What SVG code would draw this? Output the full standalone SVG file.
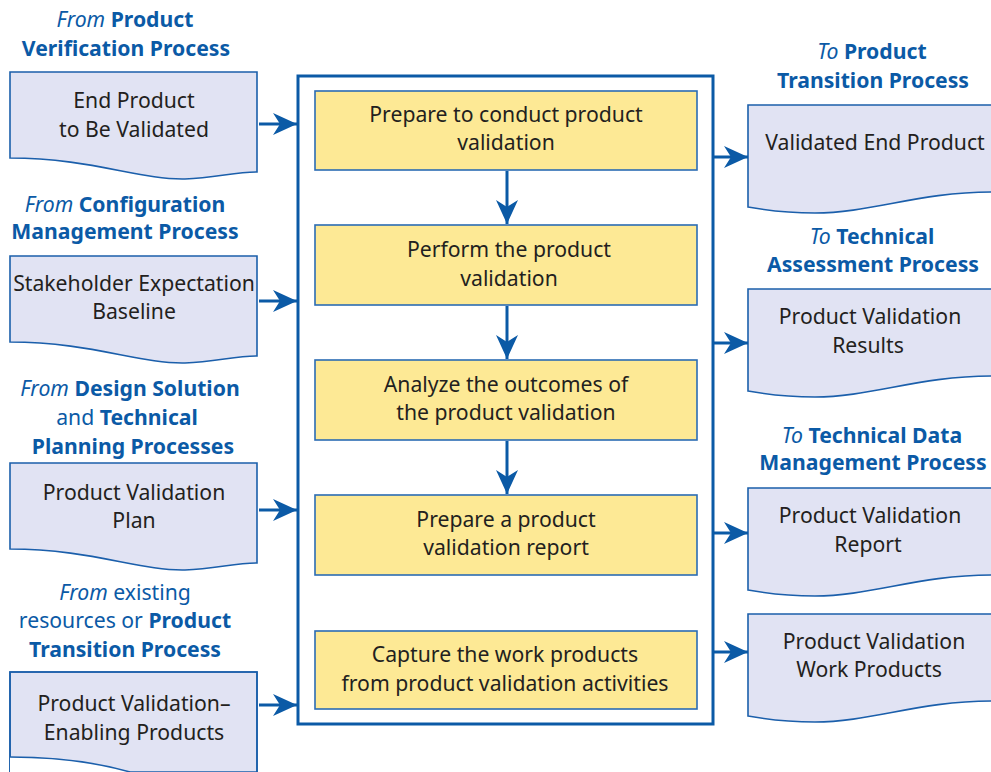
<svg xmlns="http://www.w3.org/2000/svg" width="991" height="772" viewBox="0 0 991 772">
<style>
.t{font-family:"Noto Sans","Open Sans",sans-serif;font-size:21.2px;fill:#231f20;text-anchor:middle}
.h{font-family:"Noto Sans","Open Sans",sans-serif;font-size:21.2px;fill:#0b5aa6;text-anchor:middle}
.b{font-weight:bold}
.i{font-style:italic}
.doc{fill:#e1e3f3;stroke:#1b5fab;stroke-width:1.6}
.box{fill:#fde995;stroke:#2b6cb3;stroke-width:1.6}
.c{fill:none;stroke:#0b5aa6;stroke-width:3}
</style>
<defs>
<marker id="ah" markerUnits="userSpaceOnUse" markerWidth="26" markerHeight="24" refX="24" refY="11" orient="auto">
<path d="M0,0 L24,11 L0,22 L7,11 Z" fill="#0b5aa6"/>
</marker>
</defs>
<rect x="0" y="0" width="991" height="772" fill="#ffffff"/>

<g id="container">
<rect x="298" y="76" width="415" height="648" fill="none" stroke="#0b5aa6" stroke-width="3"/>
</g>

<g id="heading-left-1">
<text class="h" x="125" y="27"><tspan class="i">From</tspan> <tspan class="b">Product</tspan></text>
<text class="h b" x="126" y="56">Verification Process</text>
</g>
<g id="heading-left-2">
<text class="h" x="125" y="212"><tspan class="i">From</tspan> <tspan class="b">Configuration</tspan></text>
<text class="h b" x="125" y="239">Management Process</text>
</g>
<g id="heading-left-3">
<text class="h" x="130" y="396"><tspan class="i">From</tspan> <tspan class="b">Design Solution</tspan></text>
<text class="h" x="127" y="425">and <tspan class="b">Technical</tspan></text>
<text class="h b" x="133" y="454">Planning Processes</text>
</g>
<g id="heading-left-4">
<text class="h" x="125" y="600"><tspan class="i">From</tspan> existing</text>
<text class="h" x="125" y="628">resources or <tspan class="b">Product</tspan></text>
<text class="h b" x="125" y="657">Transition Process</text>
</g>

<g id="heading-right-1">
<text class="h" x="872" y="59"><tspan class="i">To</tspan> <tspan class="b">Product</tspan></text>
<text class="h b" x="873" y="88">Transition Process</text>
</g>
<g id="heading-right-2">
<text class="h" x="872" y="244"><tspan class="i">To</tspan> <tspan class="b">Technical</tspan></text>
<text class="h b" x="873" y="272">Assessment Process</text>
</g>
<g id="heading-right-3">
<text class="h" x="872" y="443"><tspan class="i">To</tspan> <tspan class="b">Technical Data</tspan></text>
<text class="h b" x="873" y="470">Management Process</text>
</g>

<g id="in-1">
<path class="doc" d="M10,72 H257 V172 C235,172 215,178 185,179 C140,180 90,158 10,158 Z"/>
<text class="t" x="134" y="108">End Product</text>
<text class="t" x="134" y="137">to Be Validated</text>
</g>
<g id="in-2">
<path class="doc" d="M10,256 H257 V356 C235,356 215,362 185,363 C140,364 90,342 10,342 Z"/>
<text class="t" x="134" y="291">Stakeholder Expectation</text>
<text class="t" x="134" y="319">Baseline</text>
</g>
<g id="in-3">
<path class="doc" d="M10,463 H257 V563 C235,563 215,569 185,570 C140,571 90,549 10,549 Z"/>
<text class="t" x="134" y="500">Product Validation</text>
<text class="t" x="134" y="528">Plan</text>
</g>
<g id="in-4">
<path class="doc" d="M10,672 H257 V772 L10,772 Z" stroke="none"/>
<path d="M10,772 V672 H257 V772" fill="none" stroke="#1b5fab" stroke-width="1.6"/>
<path d="M10,757 C60,757 95,762 130,772 L10,772 Z" fill="#ffffff"/>
<path d="M10,757 C60,757 95,762 130,772" fill="none" stroke="#1b5fab" stroke-width="1.6"/>
<text class="t" x="134" y="711">Product Validation–</text>
<text class="t" x="134" y="740">Enabling Products</text>
</g>

<g id="step-1">
<rect class="box" x="315" y="91" width="382" height="79"/>
<text class="t" x="506" y="122">Prepare to conduct product</text>
<text class="t" x="506" y="150">validation</text>
</g>
<g id="step-2">
<rect class="box" x="315" y="225" width="382" height="80"/>
<text class="t" x="509" y="257">Perform the product</text>
<text class="t" x="509" y="286">validation</text>
</g>
<g id="step-3">
<rect class="box" x="315" y="360" width="382" height="80"/>
<text class="t" x="506" y="392">Analyze the outcomes of</text>
<text class="t" x="506" y="420">the product validation</text>
</g>
<g id="step-4">
<rect class="box" x="315" y="495" width="382" height="80"/>
<text class="t" x="506" y="527">Prepare a product</text>
<text class="t" x="506" y="555">validation report</text>
</g>
<g id="step-5">
<rect class="box" x="315" y="631" width="382" height="78"/>
<text class="t" x="505" y="662">Capture the work products</text>
<text class="t" x="505" y="691">from product validation activities</text>
</g>

<g id="out-1">
<path class="doc" d="M991,105 H748 V207 C770,211 790,213 815,213 C870,213 920,192 991,192"/>
<text class="t" x="875" y="150">Validated End Product</text>
</g>
<g id="out-2">
<path class="doc" d="M991,289 H748 V391 C770,395 790,397 815,397 C870,397 920,376 991,376"/>
<text class="t" x="870" y="324">Product Validation</text>
<text class="t" x="868" y="353">Results</text>
</g>
<g id="out-3">
<path class="doc" d="M991,488 H748 V590 C770,594 790,596 815,596 C870,596 920,575 991,575"/>
<text class="t" x="870" y="523">Product Validation</text>
<text class="t" x="868" y="552">Report</text>
</g>
<g id="out-4">
<path class="doc" d="M991,614 H748 V716 C770,720 790,722 815,722 C870,722 920,701 991,701"/>
<text class="t" x="874" y="649">Product Validation</text>
<text class="t" x="869" y="677">Work Products</text>
</g>

<g id="connectors">
<line class="c" x1="259" y1="124" x2="297" y2="124" marker-end="url(#ah)"/>
<line class="c" x1="259" y1="301" x2="297" y2="301" marker-end="url(#ah)"/>
<line class="c" x1="259" y1="510" x2="297" y2="510" marker-end="url(#ah)"/>
<line class="c" x1="259" y1="705" x2="297" y2="705" marker-end="url(#ah)"/>
<line class="c" x1="713" y1="157" x2="748" y2="157" marker-end="url(#ah)"/>
<line class="c" x1="713" y1="343" x2="748" y2="343" marker-end="url(#ah)"/>
<line class="c" x1="713" y1="533" x2="748" y2="533" marker-end="url(#ah)"/>
<line class="c" x1="713" y1="652" x2="748" y2="652" marker-end="url(#ah)"/>
<line class="c" x1="507" y1="171" x2="507" y2="224" marker-end="url(#ah)"/>
<line class="c" x1="507" y1="306" x2="507" y2="359" marker-end="url(#ah)"/>
<line class="c" x1="507" y1="441" x2="507" y2="494" marker-end="url(#ah)"/>
</g>
</svg>
